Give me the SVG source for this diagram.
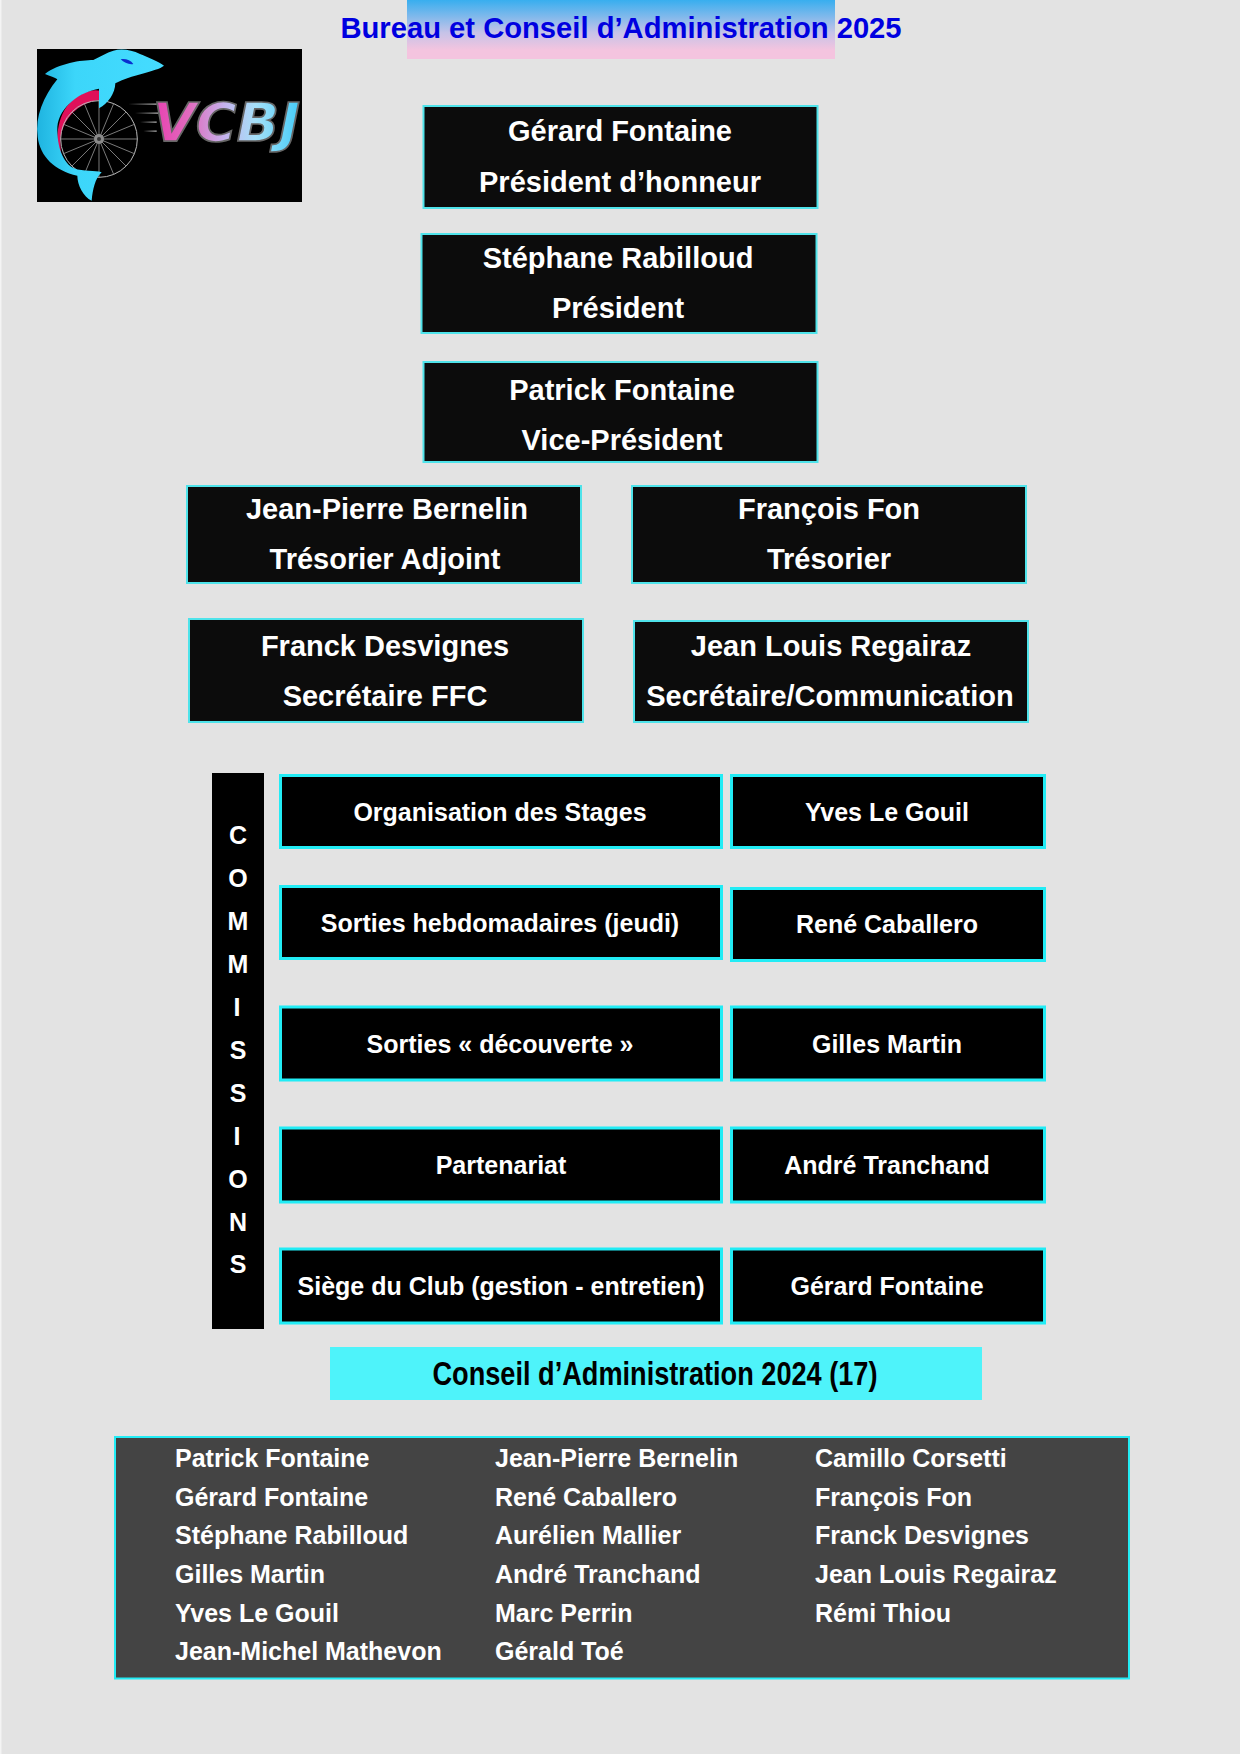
<svg xmlns="http://www.w3.org/2000/svg" width="1240" height="1754" viewBox="0 0 1240 1754">
<style>
text{font-family:"Liberation Sans",Arial,sans-serif;font-weight:700}
.b{fill:#0c0c0c;stroke:#4fe3ea;stroke-width:2}
.c{fill:#000;stroke:#22ecf5;stroke-width:3}
.n{fill:#fff;font-size:29px;text-anchor:middle}
.m{fill:#fff;font-size:25px;text-anchor:middle}
.l{fill:#fff;font-size:25px}
</style>
<defs>
<linearGradient id="tg" x1="0" y1="0" x2="0" y2="1"><stop offset="0" stop-color="#38aeef"/><stop offset=".55" stop-color="#c5c3e8"/><stop offset=".85" stop-color="#f4c4df"/><stop offset="1" stop-color="#f4c4df"/></linearGradient>
<linearGradient id="dg" x1="0" y1="0" x2="1" y2="0"><stop offset="0" stop-color="#1fb4e0"/><stop offset=".3" stop-color="#3cd6fa"/><stop offset="1" stop-color="#45dcff"/></linearGradient>
<linearGradient id="vg" x1="0" y1="0" x2="1" y2="0"><stop offset="0" stop-color="#e83fb0"/><stop offset=".25" stop-color="#e06cbe"/><stop offset=".5" stop-color="#c3b6ee"/><stop offset=".7" stop-color="#a5e0f8"/><stop offset="1" stop-color="#45ccf8"/></linearGradient>
<linearGradient id="sg" x1="0" y1="0" x2="1" y2="0"><stop offset="0" stop-color="#000"/><stop offset="1" stop-color="#8a8a8a"/></linearGradient>
</defs>
<rect width="1240" height="1754" fill="#e3e3e3"/>
<rect width="1.5" height="1754" fill="#f4f4f4"/>
<g id="title">
<rect x="407" y="0" width="428" height="59" fill="url(#tg)"/>
<text x="621" y="38" font-size="29.2" fill="#0000e0" text-anchor="middle">Bureau et Conseil d’Administration 2025</text>
</g>
<g id="logo">
<rect x="37" y="49" width="265" height="153" fill="#000"/>
<g transform="scale(.33333)">
<path d="M175 470C165 400 175 320 240 285C260 272 285 268 300 272L300 300C250 305 195 340 182 410C180 440 182 460 190 480Z" fill="#e0105a"/>
<g fill="none" stroke="#b8b8b8" stroke-width="3">
<circle cx="297" cy="417" r="115"/>
<path d="M297 302V532M182 417H412M216 336L378 498M378 336L216 498M253 311L341 523M341 311L253 523M191 373L403 461M191 461L403 373" stroke-width="2"/>
</g>
<circle cx="297" cy="417" r="15" fill="#8a8a8a"/><circle cx="297" cy="417" r="6" fill="#333"/>
<path d="M492 197C478 186 445 172 420 162C395 150 365 145 340 152C320 158 300 170 280 180C245 180 175 190 135 222C150 228 165 232 172 238C130 290 105 350 113 410C120 470 165 512 232 527C232 555 250 590 275 602C278 570 285 535 305 517C285 510 250 516 222 505C190 490 170 440 172 380C178 320 240 275 297 266L297 325C325 310 345 280 346 250C390 225 470 215 492 197Z" fill="url(#dg)"/>
<path d="M362 178C375 175 392 180 400 192C388 195 372 188 362 178Z" fill="#0a2fd0"/>
<g fill="url(#sg)"><rect x="385" y="310" width="85" height="5"/><rect x="405" y="337" width="70" height="5"/><rect x="420" y="364" width="50" height="5"/><rect x="430" y="391" width="40" height="5"/></g>
<text x="458" y="424" font-size="158" font-style="italic" textLength="442" lengthAdjust="spacingAndGlyphs" fill="url(#vg)" stroke="#666" stroke-width="5" style="font-family:'DejaVu Sans',sans-serif">VCBJ</text>
</g>
</g>
<g id="bureau">
<g id="n1"><rect class="b" x="423.5" y="106" width="394" height="102"/><text class="n" x="620" y="141">Gérard Fontaine</text><text class="n" x="620" y="192">Président d’honneur</text></g>
<g id="n2"><rect class="b" x="421.5" y="234" width="395" height="99"/><text class="n" x="618" y="268">Stéphane Rabilloud</text><text class="n" x="618" y="318">Président</text></g>
<g id="n3"><rect class="b" x="423.5" y="362" width="394" height="100"/><text class="n" x="622" y="400">Patrick Fontaine</text><text class="n" x="622" y="450">Vice-Président</text></g>
<g id="n4"><rect class="b" x="187" y="486" width="394" height="97"/><text class="n" x="387" y="519">Jean-Pierre Bernelin</text><text class="n" x="385" y="569">Trésorier Adjoint</text></g>
<g id="n5"><rect class="b" x="632" y="486" width="394" height="97"/><text class="n" x="829" y="519">François Fon</text><text class="n" x="829" y="569">Trésorier</text></g>
<g id="n6"><rect class="b" x="189" y="619" width="394" height="103"/><text class="n" x="385" y="656">Franck Desvignes</text><text class="n" x="385" y="706">Secrétaire FFC</text></g>
<g id="n7"><rect class="b" x="634" y="621" width="394" height="101"/><text class="n" x="831" y="656">Jean Louis Regairaz</text><text class="n" x="830" y="706">Secrétaire/Communication</text></g>
</g>
<g id="commissions">
<rect x="212" y="773" width="52" height="556" fill="#000"/>
<g style="fill:#fff;font-size:25px;text-anchor:middle">
<text x="238" y="844">C</text><text x="238" y="887">O</text><text x="238" y="930">M</text><text x="238" y="973">M</text><text x="237" y="1016">I</text><text x="238" y="1059">S</text><text x="238" y="1102">S</text><text x="237" y="1145">I</text><text x="238" y="1188">O</text><text x="238" y="1231">N</text><text x="238" y="1273">S</text>
</g>
</g>
<g id="c1"><rect class="c" x="280.5" y="775.5" width="441" height="72"/><text class="m" x="500" y="821">Organisation des Stages</text></g>
<g id="c2"><rect class="c" x="731.5" y="775.5" width="313" height="72"/><text class="m" x="887" y="821">Yves Le Gouil</text></g>
<g id="c3"><rect class="c" x="280.5" y="886.5" width="441" height="72"/><text class="m" x="500" y="932">Sorties hebdomadaires (jeudi)</text></g>
<g id="c4"><rect class="c" x="731.5" y="888.5" width="313" height="72"/><text class="m" x="887" y="933">René Caballero</text></g>
<g id="c5"><rect class="c" x="280.5" y="1007" width="441" height="73"/><text class="m" x="500" y="1053">Sorties « découverte »</text></g>
<g id="c6"><rect class="c" x="731.5" y="1007" width="313" height="73"/><text class="m" x="887" y="1053">Gilles Martin</text></g>
<g id="c7"><rect class="c" x="280.5" y="1128" width="441" height="74"/><text class="m" x="501" y="1174">Partenariat</text></g>
<g id="c8"><rect class="c" x="731.5" y="1128" width="313" height="74"/><text class="m" x="887" y="1174">André Tranchand</text></g>
<g id="c9"><rect class="c" x="280.5" y="1249" width="441" height="74"/><text class="m" x="501" y="1295">Siège du Club (gestion - entretien)</text></g>
<g id="c10"><rect class="c" x="731.5" y="1249" width="313" height="74"/><text class="m" x="887" y="1295">Gérard Fontaine</text></g>
<g id="conseil"><rect x="330" y="1347" width="652" height="53" fill="#4ef3fa"/><text x="655" y="1385" font-size="33" fill="#000" text-anchor="middle" textLength="445" lengthAdjust="spacingAndGlyphs">Conseil d’Administration 2024 (17)</text></g>
<g id="membres">
<rect x="115" y="1437" width="1014" height="241.5" fill="#444" stroke="#22ecf5" stroke-width="2"/>
<text class="l" x="175" y="1467">Patrick Fontaine</text><text class="l" x="175" y="1506">Gérard Fontaine</text><text class="l" x="175" y="1544">Stéphane Rabilloud</text><text class="l" x="175" y="1583">Gilles Martin</text><text class="l" x="175" y="1622">Yves Le Gouil</text><text class="l" x="175" y="1660">Jean-Michel Mathevon</text>
<text class="l" x="495" y="1467">Jean-Pierre Bernelin</text><text class="l" x="495" y="1506">René Caballero</text><text class="l" x="495" y="1544">Aurélien Mallier</text><text class="l" x="495" y="1583">André Tranchand</text><text class="l" x="495" y="1622">Marc Perrin</text><text class="l" x="495" y="1660">Gérald Toé</text>
<text class="l" x="815" y="1467">Camillo Corsetti</text><text class="l" x="815" y="1506">François Fon</text><text class="l" x="815" y="1544">Franck Desvignes</text><text class="l" x="815" y="1583">Jean Louis Regairaz</text><text class="l" x="815" y="1622">Rémi Thiou</text>
</g>
</svg>
